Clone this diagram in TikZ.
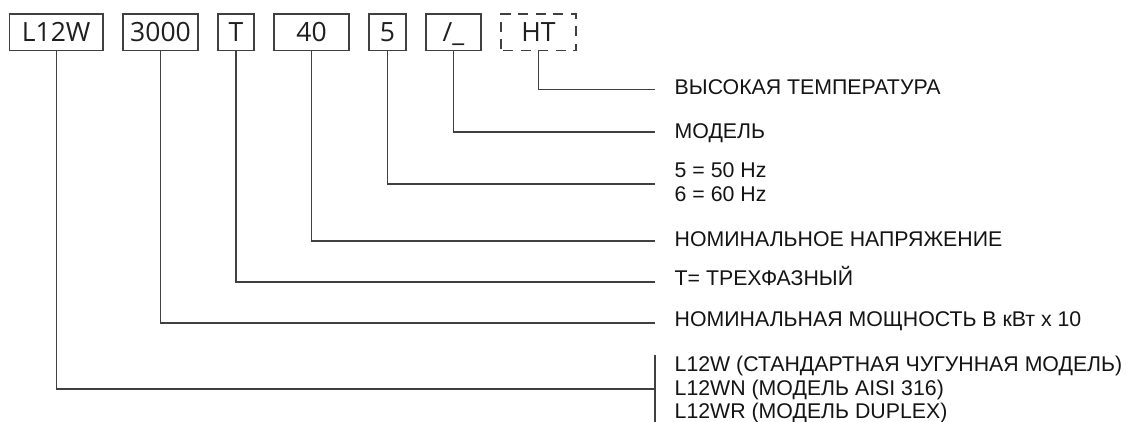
\documentclass[tikz,border=0pt]{standalone}
\usepackage{fontspec}
\setmainfont{Liberation Sans}
\newfontfamily\boxfont{Open Sans}
\begin{document}
\begin{tikzpicture}[x=1pt,y=-1pt,
  codebox/.style={draw=black!75,line width=1.2pt,inner sep=0pt,
    minimum height=36.7pt,text height=19pt,text depth=0pt,
    font=\boxfont\fontsize{26.5pt}{30pt}\selectfont,text=black!88},
  lbl/.style={anchor=base west,inner sep=0pt,
    font=\fontsize{21.3pt}{24pt}\selectfont,text=black!92},
  conn/.style={draw=black!75,line width=1.2pt}]
\useasboundingbox (0,0) rectangle (1126,422);
% code boxes
\node[codebox,minimum width=93.7pt] (b1) at (56.2,32.3) {L12W};
\node[codebox,minimum width=75pt] (b2) at (160.5,32.3) {3000};
\node[codebox,minimum width=36pt] (b3) at (236,32.3) {T};
\node[codebox,minimum width=75pt] (b4) at (311.5,32.3) {40};
\node[codebox,minimum width=37pt] (b5) at (387.5,32.3) {5};
\node[codebox,minimum width=55pt] (b6) at (453.5,32.3) {/\_};
\node[codebox,minimum width=75pt,dash pattern=on 10pt off 7.5pt,dash phase=-2pt] (b7) at (538.5,32.3) {HT};
% connector end points
\coordinate (e7) at (655,89.5);
\coordinate (e6) at (655,132);
\coordinate (e5) at (655,184);
\coordinate (e4) at (655,241);
\coordinate (e3) at (655,282);
\coordinate (e2) at (655,323);
\coordinate (e1) at (655,389);
\coordinate (vt) at (655,355);
\coordinate (vb) at (655,422);
% connectors
\draw[conn] (b7.south) |- (e7);
\draw[conn] (b6.south) |- (e6);
\draw[conn] (b5.south) |- (e5);
\draw[conn] (b4.south) |- (e4);
\draw[conn] (b3.south) |- (e3);
\draw[conn] (b2.south) |- (e2);
\draw[conn] (b1.south) |- (e1);
\draw[conn] (vt) -- (vb);
% labels
\node[lbl] (l7) at (674.5,94.3) {ВЫСОКАЯ ТЕМПЕРАТУРА};
\node[lbl] (l6) at (674.5,139) {МОДЕЛЬ};
\node[lbl] (l5a) at (674.5,177.3) {5 = 50 Hz};
\node[lbl] (l5b) at (674.5,201.3) {6 = 60 Hz};
\node[lbl] (l4) at (674.5,246.7) {НОМИНАЛЬНОЕ НАПРЯЖЕНИЕ};
\node[lbl] (l3) at (674.5,285.7) {T= ТРЕХФАЗНЫЙ};
\node[lbl] (l2) at (674.5,326.7) {НОМИНАЛЬНАЯ МОЩНОСТЬ В кВт x 10};
\node[lbl] (l1a) at (674.5,371) {L12W (СТАНДАРТНАЯ ЧУГУННАЯ МОДЕЛЬ)};
\node[lbl] (l1b) at (674.5,395) {L12WN (МОДЕЛЬ AISI 316)};
\node[lbl] (l1c) at (674.5,418.7) {L12WR (МОДЕЛЬ DUPLEX)};
\end{tikzpicture}
\end{document}
